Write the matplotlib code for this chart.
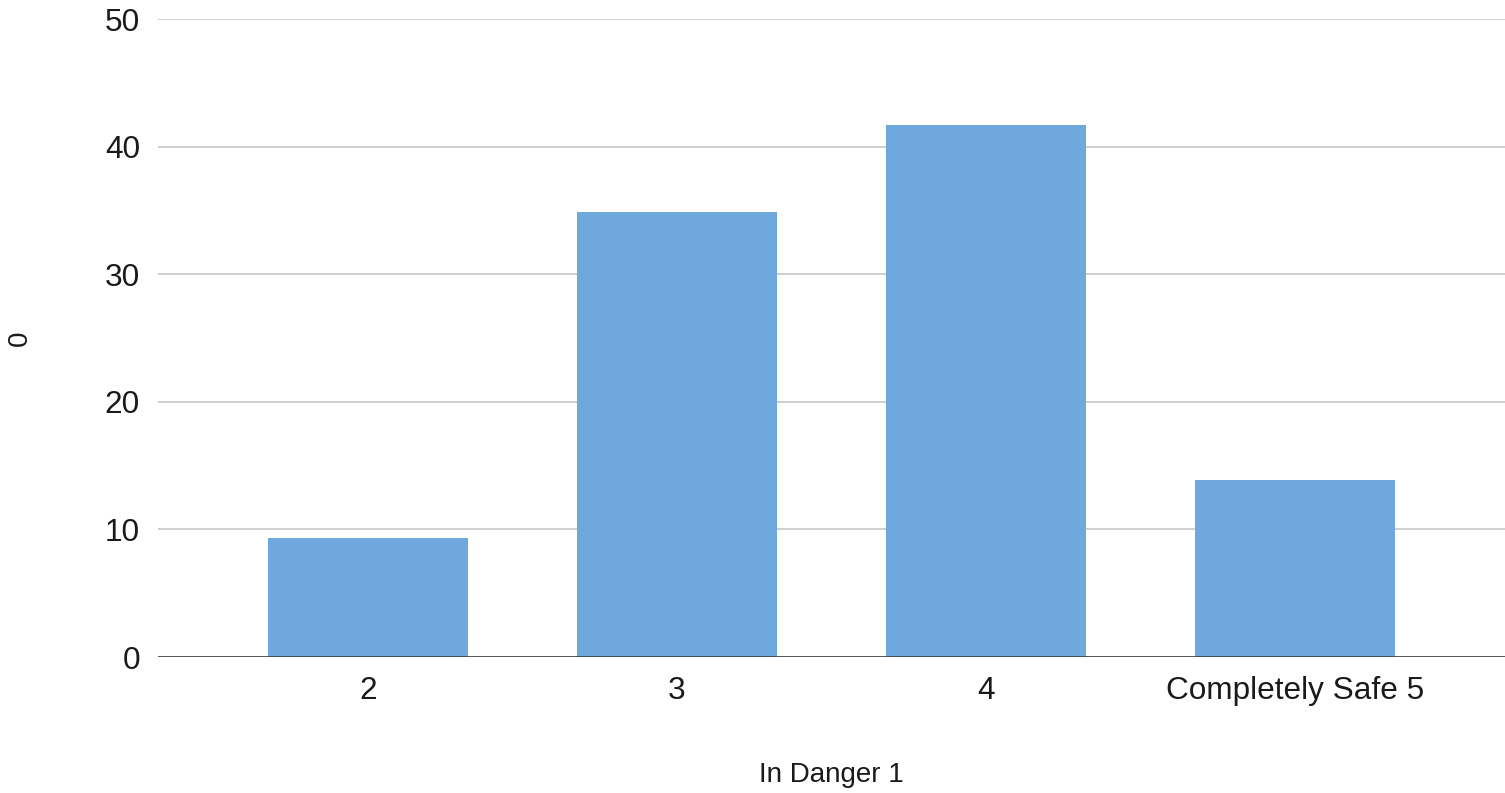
import matplotlib.pyplot as plt
import numpy as np

plt.rcParams['font.family'] = ['Liberation Sans', 'DejaVu Sans']

categories = ["2", "3", "4", "Completely Safe 5"]
values = [9.3, 34.9, 41.7, 13.9]
y_ticks = [0, 10, 20, 30, 40, 50]

fig = plt.figure(figsize=(15.05, 7.93), dpi=100)
ax = fig.add_axes([0.105, 0.1715, 0.895, 0.8045])

x = np.arange(len(categories))
ax.bar(x, values, width=0.645, color='#6fa8dc', zorder=2)

ax.set_xlim(-0.68, 3.68)
ax.set_ylim(0, 50)
ax.set_yticks(y_ticks)
ax.set_xticks(x)
ax.set_xticklabels(categories)
ax.tick_params(axis='both', length=0, labelsize=22.7, colors='#1a1a1a')
ax.tick_params(axis='y', pad=13)
ax.tick_params(axis='x', pad=14)

# light horizontal grid, darker baseline at zero
ax.grid(axis='y', color='#cccccc', linewidth=1.3, zorder=0)
ax.axhline(0, color='#333333', linewidth=1.8, zorder=3)
for s in ax.spines.values():
    s.set_visible(False)

ax.set_xlabel("In Danger 1", fontsize=20, color='#1a1a1a', labelpad=40)
ax.set_ylabel("0", fontsize=20, color='#1a1a1a', labelpad=52)

fig.savefig("out.png", dpi=100)
